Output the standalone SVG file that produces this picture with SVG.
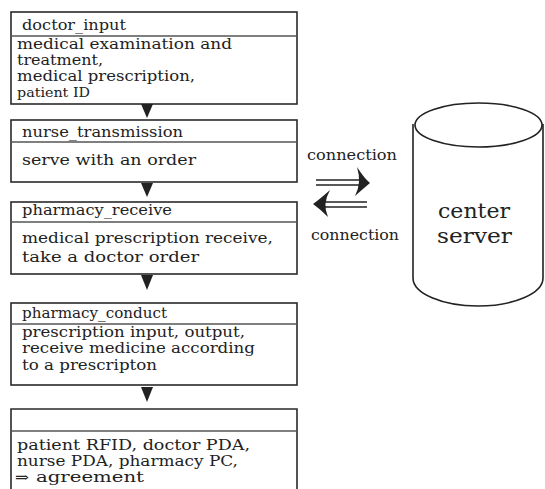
<svg xmlns="http://www.w3.org/2000/svg" width="545" height="489" viewBox="0 0 545 489">
  <style>
    .box { fill: #fff; stroke: #2a2a2a; stroke-width: 1.6; }
    .div { stroke: #555; stroke-width: 1.4; }
    text { fill: #222; font-family: 'DejaVu Serif', 'Liberation Serif', serif; }
    .t { font-size: 14px; }
    .s { font-size: 12.5px; }
    .big { font-size: 21px; }
    .tri { fill: #222; }
    .dbl { stroke: #222; stroke-width: 1.6; fill: none; }
  </style>
  <rect width="545" height="489" fill="#fff"/>

  <g id="doctor_input">
    <rect class="box" x="11" y="12" width="286" height="92"/>
    <line class="div" x1="11" y1="36" x2="297" y2="36"/>
    <text class="t" x="22" y="30" textLength="104" lengthAdjust="spacingAndGlyphs">doctor_input</text>
    <text class="t" x="17" y="49" textLength="215" lengthAdjust="spacingAndGlyphs">medical examination and</text>
    <text class="t" x="17" y="65" textLength="86" lengthAdjust="spacingAndGlyphs">treatment,</text>
    <text class="t" x="17" y="81" textLength="178" lengthAdjust="spacingAndGlyphs">medical prescription,</text>
    <text class="s" x="17" y="97" textLength="73" lengthAdjust="spacingAndGlyphs">patient ID</text>
  </g>

  <g id="nurse_transmission">
    <rect class="box" x="11" y="120" width="286" height="62"/>
    <line class="div" x1="11" y1="142" x2="297" y2="142"/>
    <text class="t" x="22" y="137" textLength="161" lengthAdjust="spacingAndGlyphs">nurse_transmission</text>
    <text class="t" x="22" y="165" textLength="174" lengthAdjust="spacingAndGlyphs">serve with an order</text>
  </g>

  <g id="pharmacy_receive">
    <rect class="box" x="11" y="202" width="286" height="72"/>
    <line class="div" x1="11" y1="222" x2="297" y2="222"/>
    <text class="t" x="22" y="215" textLength="150" lengthAdjust="spacingAndGlyphs">pharmacy_receive</text>
    <text class="t" x="22" y="243" textLength="251" lengthAdjust="spacingAndGlyphs">medical prescription receive,</text>
    <text class="t" x="22" y="262" textLength="177" lengthAdjust="spacingAndGlyphs">take a doctor order</text>
  </g>

  <g id="pharmacy_conduct">
    <rect class="box" x="11" y="303" width="286" height="82"/>
    <line class="div" x1="11" y1="324" x2="297" y2="324"/>
    <text class="t" x="22" y="318" textLength="145" lengthAdjust="spacingAndGlyphs">pharmacy_conduct</text>
    <text class="t" x="22" y="337" textLength="223" lengthAdjust="spacingAndGlyphs">prescription input, output,</text>
    <text class="t" x="22" y="353" textLength="233" lengthAdjust="spacingAndGlyphs">receive medicine according</text>
    <text class="t" x="22" y="370" textLength="135" lengthAdjust="spacingAndGlyphs">to a prescripton</text>
  </g>

  <g id="devices">
    <path class="box" d="M11,490 V409 H297 V490"/>
    <line class="div" x1="11" y1="431" x2="297" y2="431"/>
    <text class="t" x="17" y="450" textLength="233" lengthAdjust="spacingAndGlyphs">patient RFID, doctor PDA,</text>
    <text class="t" x="17" y="466" textLength="221" lengthAdjust="spacingAndGlyphs">nurse PDA, pharmacy PC,</text>
    <text class="t" x="15" y="482" textLength="14" lengthAdjust="spacingAndGlyphs">⇒</text>
    <text class="t" x="36" y="482" textLength="108" lengthAdjust="spacingAndGlyphs">agreement</text>
  </g>

  <g id="center_server">
    <path d="M413,124 V278 A65,28 0 0 0 543,278 V124" fill="#fff" stroke="#222" stroke-width="1.6"/>
    <ellipse cx="478.5" cy="125" rx="63.5" ry="22" fill="#fff" stroke="#222" stroke-width="1.6"/>
    <text class="big" x="438" y="218" textLength="72" lengthAdjust="spacingAndGlyphs">center</text>
    <text class="big" x="437" y="243" textLength="75" lengthAdjust="spacingAndGlyphs">server</text>
  </g>

  <g id="connectors">
    <!-- flow arrowheads between the stages -->
    <polygon class="tri" points="141,104 153,104 147,118"/>
    <polygon class="tri" points="141,183 153,183 147,197"/>
    <polygon class="tri" points="141,275 153,275 147,290"/>
    <polygon class="tri" points="141,387 153,387 147,402"/>

    <!-- two-way link to the server -->
    <line class="dbl" x1="316" y1="180" x2="362" y2="180"/>
    <line class="dbl" x1="316" y1="185" x2="362" y2="185"/>
    <path class="tri" d="M357,167 Q364,178 370,183 Q364,188 355,196 Q362,183 357,167 Z"/>
    <line class="dbl" x1="320" y1="202" x2="367" y2="202"/>
    <line class="dbl" x1="320" y1="207" x2="367" y2="207"/>
    <path class="tri" d="M330,190 Q320,199 313,204 Q320,209 328,217 Q322,204 330,190 Z"/>

    <text class="t" x="307" y="160" textLength="90" lengthAdjust="spacingAndGlyphs">connection</text>
    <text class="t" x="311" y="240" textLength="88" lengthAdjust="spacingAndGlyphs">connection</text>
  </g>
</svg>
